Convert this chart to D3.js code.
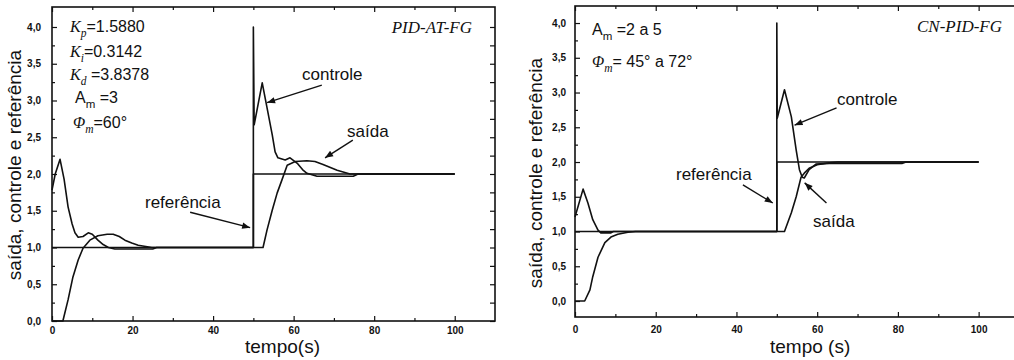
<!DOCTYPE html>
<html>
<head>
<meta charset="utf-8">
<script src="https://cdn.jsdelivr.net/npm/d3@7"></script>
<style>
  body { margin: 0; background: #fff; }
  svg { display: block; }
</style>
</head>
<body>
<svg width="1014" height="360"></svg>
<script>
(function() {
  // [tempo (s), valor] -- painel PID-AT-FG
  var referenciaA = [[0, 1], [50, 1], [50, 2], [100, 2]]
  var controleA = [
    [0, 1.78], [0.8, 2.0], [2, 2.2], [3, 1.93], [4, 1.55], [5, 1.32], [5.7, 1.2],
    [6.5, 1.14], [7.7, 1.15], [9, 1.2], [10, 1.18], [11.4, 1.1], [12.7, 1.04],
    [14, 1.0], [15.6, 0.98], [25, 0.98], [26, 1.0], [50, 1.0], [50, 4.0],
    [50.2, 2.67], [52.2, 3.24], [53.4, 2.9], [54.7, 2.53], [55.4, 2.3],
    [56.1, 2.22], [57.9, 2.19], [59.1, 2.22], [61, 2.14], [62.2, 2.06],
    [63.3, 2.01], [65.8, 1.97], [74.8, 1.97], [76, 2.0], [100, 2.0]
  ]
  var saidaA = [
    [0, 0], [2.7, 0], [4, 0.29], [5.2, 0.6], [6.5, 0.83], [7.7, 0.99], [9.4, 1.1],
    [11.4, 1.16], [13.7, 1.18], [15.2, 1.18], [16.7, 1.15], [18.1, 1.1],
    [19.8, 1.06], [21.4, 1.03], [24.8, 1.0], [52.4, 1.0], [53.4, 1.24],
    [54.7, 1.51], [55.9, 1.74], [57.1, 1.92], [58.4, 2.12], [60.4, 2.17],
    [63.3, 2.18], [65.3, 2.17], [67.3, 2.13], [70.8, 2.05], [74, 2.0], [100, 2.0]
  ]

  // [tempo (s), valor] -- painel CN-PID-FG
  var referenciaB = [[0, 1], [50, 1], [50, 2], [100, 2]]
  var controleB = [
    [0, 1.21], [2, 1.61], [3.2, 1.41], [4.4, 1.17], [5.7, 1.02], [6.4, 0.98],
    [8.9, 0.98], [9.5, 1.0], [50, 1.0], [50, 4.0], [50.1, 2.63], [51.9, 3.04],
    [53.6, 2.65], [54.8, 2.17], [55.6, 1.89], [56.3, 1.78], [56.8, 1.77],
    [58, 1.89], [59.7, 1.97], [63, 1.98], [81, 1.98], [82, 2.0], [100, 2.0]
  ]
  var saidaB = [
    [0, 0], [2.4, 0], [3.7, 0.16], [4.4, 0.35], [5.7, 0.63], [7.4, 0.84],
    [8.9, 0.92], [10.6, 0.96], [13.1, 0.99], [15, 1.0], [51.9, 1.0],
    [53.6, 1.27], [54.8, 1.5], [56, 1.78], [56.8, 1.84], [58, 1.91],
    [60, 1.96], [63, 1.99], [65, 2.0], [100, 2.0]
  ]

  var xTicks = [0, 20, 40, 60, 80, 100]
  var xMinor = [10, 30, 50, 70, 90]
  var yTicks = [0, 0.5, 1, 1.5, 2, 2.5, 3, 3.5, 4]
  var yMinor = [0.25, 0.75, 1.25, 1.75, 2.25, 2.75, 3.25, 3.75]

  var sans = '"Liberation Sans", Arial, sans-serif'
  var serif = '"Liberation Serif", "Times New Roman", serif'
  var fmt = function(d) { return d3.format('.1f')(d).replace('.', ',') }

  var svg = d3.select('svg')

  // ponta de seta
  svg.append('defs').append('marker')
    .attr('id', 'seta')
    .attr('viewBox', '0 0 10 10')
    .attr('refX', 10).attr('refY', 5)
    .attr('markerWidth', 9).attr('markerHeight', 8)
    .attr('markerUnits', 'userSpaceOnUse')
    .attr('orient', 'auto')
    .append('path')
    .attr('d', 'M0,1L10,5L0,9Z')
    .attr('fill', '#111')

  // texto com indices: partes [texto, estilo] ; estilo: 'i' italico serif, 's' subscrito
  function rich(g, px, py, size, parts) {
    var t = g.append('text').attr('x', px).attr('y', py)
      .attr('font-size', size).attr('fill', '#111')
    var down = false
    parts.forEach(function(p) {
      var st = p[1] || ''
      var span = t.append('tspan').text(p[0])
      var sub = st.indexOf('s') >= 0
      if (st.indexOf('i') >= 0) {
        span.attr('font-family', serif).attr('font-style', 'italic')
      } else {
        span.attr('font-family', sans)
      }
      if (sub && !down) { span.attr('dy', size * 0.32); down = true }
      if (!sub && down) { span.attr('dy', -size * 0.32); down = false }
      if (sub) span.attr('font-size', size * 0.72)
    })
    return t
  }

  function panel(p) {
    var x = d3.scaleLinear().domain([0, 110]).range([p.left, p.right])
    var y = d3.scaleLinear().domain(p.yDomain).range([p.bottom, p.top])
    var g = svg.append('g')

    // eixos com marcas para dentro
    function ax(axisFn, values, size, pad, labels, tr) {
      var a = axisFn.tickValues(values).tickSize(-size).tickPadding(pad)
      a.tickFormat(labels ? labels : function() { return '' })
      var ag = g.append('g').attr('transform', tr).call(a)
      ag.select('.domain').remove()
      ag.selectAll('line').attr('stroke', '#111').attr('stroke-width', 1.2)
      ag.selectAll('text')
        .attr('font-family', sans).attr('font-size', 10)
        .attr('font-weight', 'bold').attr('fill', '#111')
      return ag
    }
    ax(d3.axisBottom(x), xTicks, 5, p.xPad, function(d) { return d }, 'translate(0,' + p.bottom + ')')
    ax(d3.axisBottom(x), xMinor, 3, 0, null, 'translate(0,' + p.bottom + ')')
    ax(d3.axisTop(x), xTicks, 5, 0, null, 'translate(0,' + p.top + ')')
    ax(d3.axisTop(x), xMinor, 3, 0, null, 'translate(0,' + p.top + ')')
    ax(d3.axisLeft(y), yTicks, 5, p.yPad, fmt, 'translate(' + p.left + ',0)')
    ax(d3.axisLeft(y), yMinor, 3, 0, null, 'translate(' + p.left + ',0)')
    ax(d3.axisRight(y), yTicks.concat(yMinor), 5, 0, null, 'translate(' + p.right + ',0)')

    // moldura
    g.append('rect')
      .attr('x', p.left).attr('y', p.top)
      .attr('width', p.right - p.left).attr('height', p.bottom - p.top)
      .attr('fill', 'none').attr('stroke', '#111').attr('stroke-width', 1.6)

    // curvas
    var line = d3.line().x(function(d) { return x(d[0]) }).y(function(d) { return y(d[1]) })
    ;[p.referencia, p.saida, p.controle].forEach(function(serie) {
      g.append('path').datum(serie)
        .attr('d', line)
        .attr('fill', 'none').attr('stroke', '#111')
        .attr('stroke-width', 1.6).attr('stroke-linejoin', 'round')
    })

    // rotulos e setas
    p.rotulos.forEach(function(r) {
      g.append('text').attr('x', r.x).attr('y', r.y)
        .attr('font-family', sans).attr('font-size', 17).attr('fill', '#111')
        .text(r.text)
      g.append('line')
        .attr('x1', x(r.from[0])).attr('y1', y(r.from[1]))
        .attr('x2', x(r.to[0])).attr('y2', y(r.to[1]))
        .attr('stroke', '#111').attr('stroke-width', 1.4)
        .attr('marker-end', 'url(#seta)')
    })

    g.append('text').attr('x', p.titleX).attr('y', p.titleY)
      .attr('text-anchor', 'end')
      .attr('font-family', serif).attr('font-style', 'italic')
      .attr('font-size', 17).attr('fill', '#111')
      .text(p.title)

    // titulos dos eixos
    g.append('text')
      .attr('transform', 'translate(' + p.yLabelX + ',' + p.yLabelY + ') rotate(-90)')
      .attr('text-anchor', 'middle')
      .attr('font-family', sans).attr('font-size', 19).attr('fill', '#111')
      .text('saída, controle e referência')
    g.append('text').attr('x', p.xLabelX).attr('y', 353)
      .attr('font-family', sans).attr('font-size', 19).attr('fill', '#111')
      .text(p.xLabel)

    return g
  }

  var gA = panel({
    left: 52, right: 495, top: 7, bottom: 321,
    yDomain: [0, 4.272], xPad: 6, yPad: 11,
    referencia: referenciaA, controle: controleA, saida: saidaA,
    title: 'PID-AT-FG', titleX: 472, titleY: 33,
    yLabelX: 21, yLabelY: 165, xLabel: 'tempo(s)', xLabelX: 245,
    rotulos: [
      { text: 'controle', x: 302, y: 80, from: [67.0, 3.21], to: [53.4, 2.97] },
      { text: 'saída', x: 347, y: 137, from: [74.7, 2.46], to: [67.8, 2.22] },
      { text: 'referência', x: 145, y: 208, from: [34.3, 1.48], to: [49.2, 1.27] }
    ]
  })
  rich(gA, 70, 32, 16, [['K', 'i'], ['p', 'is'], ['=1.5880']])
  rich(gA, 70, 57, 16, [['K', 'i'], ['i', 'is'], ['=0.3142']])
  rich(gA, 70, 80, 16, [['K', 'i'], ['d', 'is'], [' =3.8378']])
  rich(gA, 75, 103, 16, [['A'], ['m', 's'], [' =3']])
  rich(gA, 73, 128, 16, [['Φ', 'i'], ['m', 'is'], ['=60°']])

  var gB = panel({
    left: 575, right: 1019, top: 6, bottom: 317,
    yDomain: [-0.23, 4.245], xPad: 9, yPad: 9,
    referencia: referenciaB, controle: controleB, saida: saidaB,
    title: 'CN-PID-FG', titleX: 1002, titleY: 32,
    yLabelX: 542, yLabelY: 173, xLabel: 'tempo (s)', xLabelX: 770,
    rotulos: [
      { text: 'referência', x: 676, y: 180, from: [41.6, 1.67], to: [49.0, 1.41] },
      { text: 'controle', x: 837, y: 105, from: [64.8, 2.78], to: [54.4, 2.53] },
      { text: 'saída', x: 813, y: 227, from: [62.3, 1.41], to: [56.9, 1.70] }
    ]
  })
  rich(gB, 592, 35, 16, [['A'], ['m', 's'], [' =2 a 5']])
  rich(gB, 592, 67, 16, [['Φ', 'i'], ['m', 'is'], ['= 45° a 72°']])
})();
</script>
</body>
</html>
